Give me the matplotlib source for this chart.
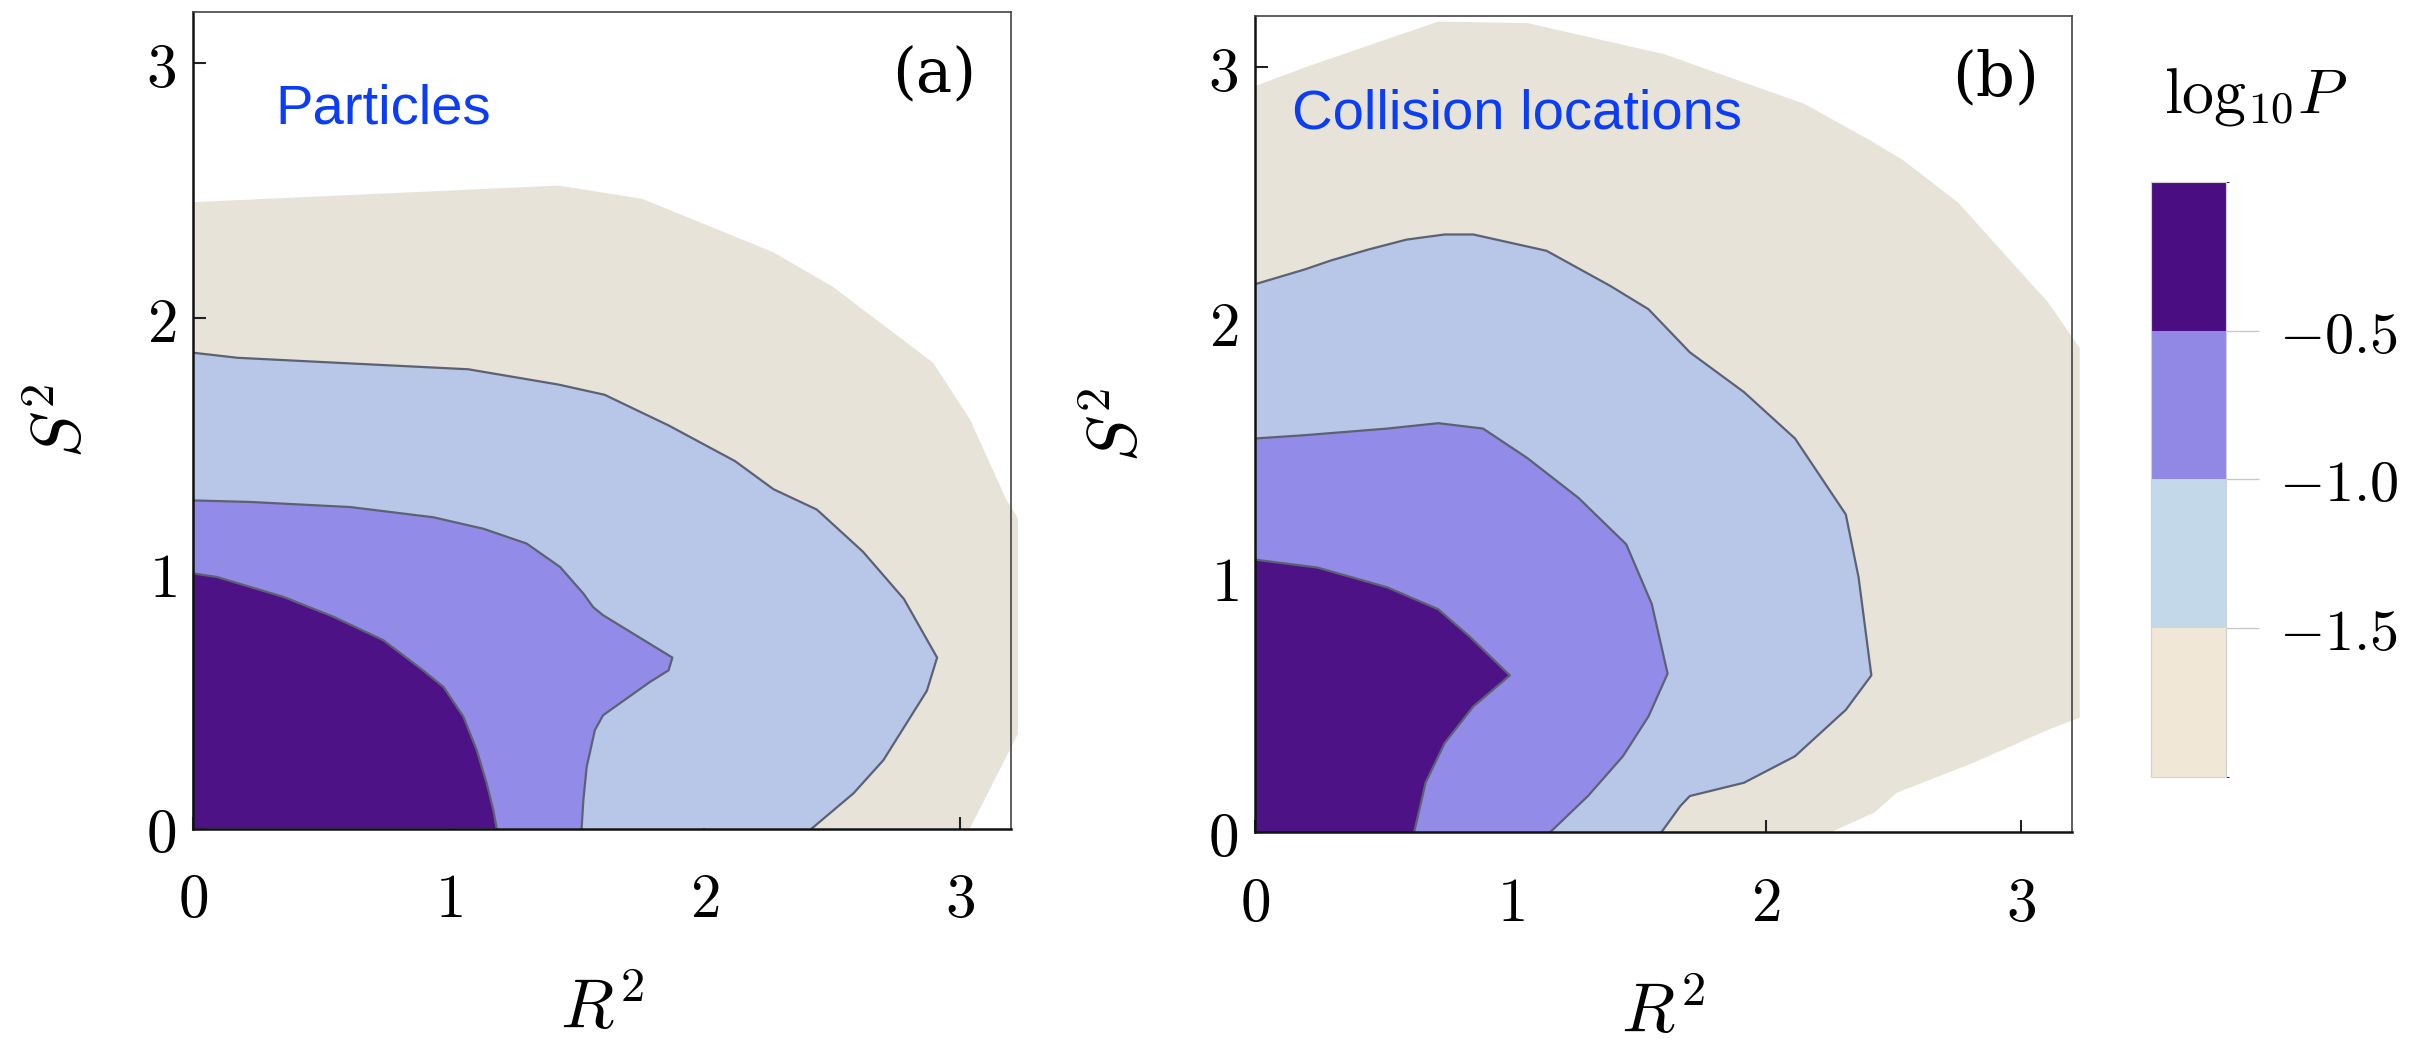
import matplotlib.pyplot as plt
from matplotlib.colors import ListedColormap, BoundaryNorm
from matplotlib.cm import ScalarMappable

plt.rcParams['mathtext.fontset'] = 'cm'
plt.rcParams['font.family'] = ['DejaVu Serif']

# contour levels of log10 P and their fill colours (low -> high)
levels = [-2.0, -1.5, -1.0, -0.5, 0.0]
fill_colors = ['#e7e3d8', '#b8c7e8', '#938be8', '#4d1286']
cbar_colors = ['#f0e7d6', '#c3d8e8', '#9188e6', '#4a0e82']
line_color = '#5c6272'

# (a) particles: boundaries of each level, from the S^2 axis round to the R^2 axis
a_beige_r2 = [0, 1.43, 1.757, 2.267, 2.50, 2.894, 3.038, 3.18, 3.226, 3.226, 3.038]
a_beige_s2 = [2.455, 2.52, 2.468, 2.26, 2.125, 1.826, 1.605, 1.29, 1.216, 0.371, 0]
a_m15_r2 = [0, 0.175, 0.554, 1.077, 1.43, 1.61, 1.86, 2.12, 2.27, 2.44, 2.62, 2.78, 2.91, 2.87, 2.70, 2.583, 2.42]
a_m15_s2 = [1.865, 1.845, 1.826, 1.80, 1.74, 1.70, 1.58, 1.44, 1.33, 1.25, 1.085, 0.90, 0.67, 0.54, 0.268, 0.138, 0]
a_m10_r2 = [0, 0.224, 0.615, 0.94, 1.136, 1.305, 1.436, 1.527, 1.565, 1.604, 1.875, 1.86, 1.788, 1.604, 1.572,
            1.54, 1.527, 1.52]
a_m10_s2 = [1.286, 1.28, 1.26, 1.22, 1.175, 1.117, 1.025, 0.921, 0.868, 0.836, 0.67, 0.62, 0.575, 0.444, 0.386,
            0.242, 0.112, 0]
a_m05_r2 = [0, 0.094, 0.354, 0.55, 0.745, 0.90, 0.98, 1.058, 1.11, 1.149, 1.175, 1.188]
a_m05_s2 = [1.0, 0.986, 0.908, 0.83, 0.738, 0.62, 0.555, 0.438, 0.307, 0.177, 0.072, 0]

# (b) collision locations
b_beige_r2 = [0, 0.195, 0.718, 1.067, 1.603, 2.152, 2.406, 2.539, 2.754, 3.105, 3.23, 3.23, 3.107, 2.813, 2.514, 2.426, 2.252]
b_beige_s2 = [2.927, 3.0, 3.18, 3.174, 3.052, 2.857, 2.716, 2.636, 2.47, 2.08, 1.90, 0.45, 0.403, 0.273, 0.156, 0.078, 0]
b_m15_r2 = [0, 0.195, 0.294, 0.444, 0.594, 0.743, 0.855, 1.142, 1.392, 1.541, 1.703, 1.915, 2.115, 2.314, 2.364,
            2.414, 2.314, 2.115, 1.915, 1.703, 1.666, 1.591]
b_m15_s2 = [2.15, 2.208, 2.242, 2.286, 2.325, 2.345, 2.345, 2.281, 2.143, 2.052, 1.883, 1.727, 1.545, 1.247, 1.0,
            0.616, 0.481, 0.299, 0.195, 0.143, 0.104, 0]
b_m10_r2 = [0, 0.195, 0.519, 0.718, 0.893, 1.067, 1.267, 1.454, 1.554, 1.616, 1.541, 1.441, 1.304, 1.155]
b_m10_s2 = [1.545, 1.558, 1.584, 1.605, 1.584, 1.468, 1.312, 1.130, 0.896, 0.623, 0.455, 0.299, 0.143, 0]
b_m05_r2 = [0, 0.244, 0.519, 0.718, 0.843, 0.998, 0.855, 0.743, 0.668, 0.623]
b_m05_s2 = [1.07, 1.039, 0.961, 0.875, 0.766, 0.616, 0.494, 0.351, 0.195, 0]

panels = [
    dict(tag='(a)', title='Particles', title_x=0.1005,
         curves=[(a_beige_r2, a_beige_s2), (a_m15_r2, a_m15_s2), (a_m10_r2, a_m10_s2), (a_m05_r2, a_m05_s2)],
         rect=[0.0799, 0.2041, 0.3392, 0.7843], ylab_x=-0.160),
    dict(tag='(b)', title='Collision locations', title_x=0.045,
         curves=[(b_beige_r2, b_beige_s2), (b_m15_r2, b_m15_s2), (b_m10_r2, b_m10_s2), (b_m05_r2, b_m05_s2)],
         rect=[0.5201, 0.2003, 0.3386, 0.7839], ylab_x=-0.168),
]

ticks = [0, 1, 2, 3]
tick_labels = [r'$%d$' % t for t in ticks]

fig = plt.figure(figsize=(24.13, 10.41), dpi=100)

for p in panels:
    ax = fig.add_axes(p['rect'])
    for k, (r2, s2) in enumerate(p['curves']):
        # close each region through the origin corner
        ax.fill(list(r2) + [0], list(s2) + [0], color=fill_colors[k], lw=0, zorder=1 + k, clip_on=False)
        if k > 0:
            ax.plot(r2, s2, color=line_color, lw=1.6, zorder=1 + k, solid_joinstyle='round')
    ax.set_xlim(0, 3.2)
    ax.set_ylim(0, 3.2)
    ax.set_xticks(ticks, tick_labels)
    ax.set_yticks(ticks, tick_labels)
    ax.tick_params(direction='in', length=9, width=1.5, labelsize=44, color='#222222')
    ax.tick_params(axis='x', pad=30)
    ax.tick_params(axis='y', pad=12)
    for side in ['left', 'bottom']:
        ax.spines[side].set_linewidth(1.8)
        ax.spines[side].set_color('#111111')
    for side in ['top', 'right']:
        ax.spines[side].set_linewidth(1.2)
        ax.spines[side].set_color('#444444')
    for s in ax.spines.values():
        s.set_zorder(10)
    ax.set_xlabel(r'$R^2$', fontsize=50)
    ax.xaxis.set_label_coords(0.5, -0.18)
    ax.xaxis.label.set_va('top')
    ax.set_ylabel(r'$S^2$', fontsize=50)
    ax.yaxis.set_label_coords(p['ylab_x'], 0.5)
    ax.yaxis.label.set_va('center')
    ax.text(0.906, 0.924, p['tag'], transform=ax.transAxes, fontsize=44, ha='center', va='center',
            family='serif', math_fontfamily='cm', zorder=12)
    ax.text(p['title_x'], 0.863, p['title'], transform=ax.transAxes, fontsize=40.5, color='#0b3df7',
            family=['Liberation Sans'], ha='left', va='baseline', zorder=12)

# colour bar for log10 P
cax = fig.add_axes([0.8914, 0.2536, 0.0311, 0.5716])
cb = fig.colorbar(ScalarMappable(norm=BoundaryNorm(levels, 4), cmap=ListedColormap(cbar_colors)),
                  cax=cax, ticks=[-1.5, -1.0, -0.5])
cb.ax.set_yticklabels([r'$-1.5$', r'$-1.0$', r'$-0.5$'])
cb.outline.set_edgecolor('#d0d0d0')
cb.outline.set_linewidth(0.8)
cax.tick_params(length=24, width=1, color='#c8c8c8', labelsize=42, pad=14)
fig.text(0.897, 0.8915, r'$\mathrm{log}_{10}P$', fontsize=46, ha='left', va='baseline')

fig.savefig('out.png', dpi=100)
